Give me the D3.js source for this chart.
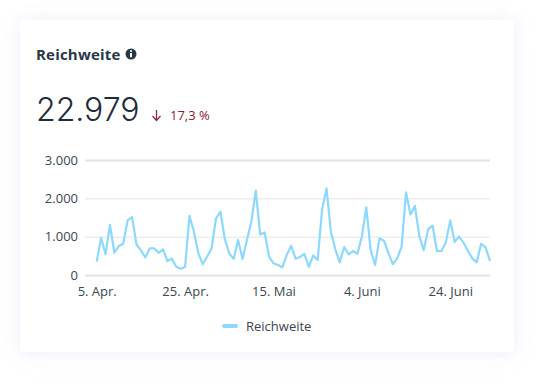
<!DOCTYPE html>
<html>
<head>
<meta charset="utf-8">
<script src="https://cdn.jsdelivr.net/npm/d3@7"></script>
<style>
  html, body { margin: 0; padding: 0; background: #fff; }
  #chart { position: relative; width: 554px; height: 392px; overflow: hidden; }
  .card {
    position: absolute; left: 20px; top: 20px; width: 494px; height: 332px;
    background: #fff; border-radius: 4px;
    box-shadow: -6px 0 16px rgba(214,224,255,.16), 6px 0 16px rgba(224,224,255,.2), 0 8px 18px rgba(240,226,245,.16), 0 -6px 14px rgba(240,236,245,.16);
  }
  svg { position: absolute; left: 0; top: 0; }
  text { font-family: "Open Sans", sans-serif; }
  .head { font-family: Inter, sans-serif; }
</style>
</head>
<body>
<div id="chart"><div class="card"></div></div>
<script>
const seriesName = "Reichweite";
const title = "Reichweite";
const total = "22.979";
const change = "17,3 %";
const startDate = new Date(2021, 3, 5);

// Tageswerte
const values = [
  350, 970, 540, 1310, 580, 755, 815, 1425, 1510, 800,
  640, 460, 695, 695, 580, 670, 365, 425, 215, 165,
  210, 1540, 1130, 565, 280, 480, 695, 1480, 1650, 930,
  565, 420, 910, 420, 910, 1390, 2200, 1060, 1110, 480,
  305, 260, 200, 520, 765, 425, 470, 550, 215, 510,
  390, 1700, 2260, 1130, 670, 330, 730, 540, 625, 555,
  1000, 1765, 650, 260, 955, 895, 580, 285, 435, 740,
  2155, 1580, 1800, 1020, 650, 1190, 1290, 625, 625, 845,
  1425, 860, 1000, 845, 625, 435, 330, 815, 720, 365
];
const yTicks = [0, 1000, 2000, 3000];
const xTickOffsets = [0, 20, 40, 60, 80];
const xTickLabels = ["5. Apr.", "25. Apr.", "15. Mai", "4. Juni", "24. Juni"];

const width = 554, height = 392;
const plot = { left: 85, right: 490, top: 160, bottom: 275 };

const dates = values.map((_, i) => d3.timeDay.offset(startDate, i));
const x = d3.scaleTime()
  .domain([startDate, dates[dates.length - 1]])
  .range([96.7, 490]);
const y = d3.scaleLinear().domain([0, 3000]).range([plot.bottom, plot.top]);

const svg = d3.select("#chart").append("svg").attr("width", width).attr("height", height);

// Titel + Info-Icon
svg.append("text").attr("x", 36).attr("y", 60)
  .attr("font-size", 15).attr("font-weight", 700).attr("letter-spacing", 0.2).attr("fill", "#283845")
  .text(title);
const info = svg.append("g").attr("transform", "translate(131,54)");
info.append("circle").attr("r", 5.5).attr("fill", "#283845");
info.append("rect").attr("x", -1).attr("y", -1).attr("width", 2).attr("height", 4.2).attr("fill", "#fff");
info.append("circle").attr("cy", -3).attr("r", 1.1).attr("fill", "#fff");

// Kennzahl
svg.append("text").attr("class", "head").attr("x", 36).attr("y", 121)
  .attr("font-size", 32).attr("font-weight", 300).attr("fill", "#1f2d3a")
  .text(total);
svg.append("path")
  .attr("d", "M156.5,110V120M152.5,116L156.5,120.5L160.5,116")
  .attr("fill", "none").attr("stroke", "#8c2c3f").attr("stroke-width", 1.3);
svg.append("text").attr("x", 170).attr("y", 120)
  .attr("font-size", 13).attr("fill", "#8a1c33")
  .text(change);

// Achsen
const de = d3.formatLocale({ decimal: ",", thousands: ".", grouping: [3], currency: ["", " €"] });
const yAxis = d3.axisLeft(y)
  .tickValues(yTicks)
  .tickSize(plot.right - plot.left)
  .tickPadding(7)
  .tickFormat(de.format(",d"));
const gy = svg.append("g").attr("transform", `translate(${plot.right},0)`).call(yAxis);
gy.select(".domain").remove();
gy.selectAll("line")
  .attr("stroke", "#e4e4e4")
  .attr("stroke-width", d => (d === 0 || d === 3000) ? 2 : 1);
gy.selectAll("text").attr("font-size", 13).attr("fill", "#3c4650");

const xAxis = d3.axisBottom(x)
  .tickValues(xTickOffsets.map(i => dates[i]))
  .tickSize(0)
  .tickPadding(0)
  .tickFormat((d, i) => xTickLabels[i]);
const gx = svg.append("g").attr("transform", `translate(0,${plot.bottom + 12})`).call(xAxis);
gx.select(".domain").remove();
gx.selectAll("text").attr("font-size", 13).attr("fill", "#3c4650");

// Linie
const line = d3.line().x((d, i) => x(dates[i])).y(d => y(d));
svg.append("path").datum(values)
  .attr("d", line)
  .attr("fill", "none")
  .attr("stroke", "#8dd8ff")
  .attr("stroke-width", 2.2)
  .attr("stroke-linejoin", "round");

// Legende
svg.append("line").attr("x1", 224).attr("x2", 236).attr("y1", 326).attr("y2", 326)
  .attr("stroke", "#8dd8ff").attr("stroke-width", 4).attr("stroke-linecap", "round");
svg.append("text").attr("x", 246).attr("y", 331)
  .attr("font-size", 13).attr("fill", "#3c4650")
  .text(seriesName);
</script>
</body>
</html>
